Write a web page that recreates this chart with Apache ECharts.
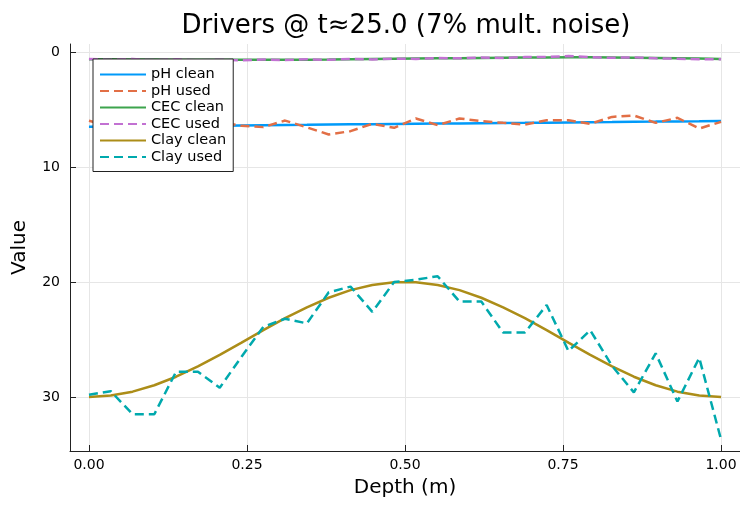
<!DOCTYPE html>
<html>
<head>
<meta charset="utf-8">
<script src="https://cdn.jsdelivr.net/npm/echarts@6/dist/echarts.min.js"></script>
<style>
  html, body { margin: 0; padding: 0; background: #fff; }
  #chart { width: 740px; height: 505px; }
</style>
</head>
<body>
<div id="chart"></div>
<script>
// depth samples (m)
const depth = [0, 0.0345, 0.0690, 0.1034, 0.1379, 0.1724, 0.2069, 0.2414, 0.2759, 0.3103,
  0.3448, 0.3793, 0.4138, 0.4483, 0.4828, 0.5172, 0.5517, 0.5862, 0.6207, 0.6552,
  0.6897, 0.7241, 0.7586, 0.7931, 0.8276, 0.8621, 0.8966, 0.9310, 0.9655, 1.0];

const phClean = [6.50, 6.48, 6.47, 6.45, 6.43, 6.41, 6.40, 6.38, 6.36, 6.34,
  6.33, 6.31, 6.29, 6.28, 6.26, 6.24, 6.22, 6.21, 6.19, 6.17,
  6.16, 6.14, 6.12, 6.10, 6.09, 6.07, 6.05, 6.03, 6.02, 6.00];
const phUsed = [5.98, 6.45, 6.20, 6.60, 6.30, 6.50, 6.10, 6.42, 6.53, 5.96,
  6.55, 7.17, 6.88, 6.24, 6.59, 5.78, 6.36, 5.78, 6.01, 6.16,
  6.30, 5.93, 5.93, 6.24, 5.64, 5.52, 6.16, 5.72, 6.65, 6.07];
const cecClean = [0.62, 0.63, 0.64, 0.65, 0.66, 0.67, 0.68, 0.68, 0.68, 0.67,
  0.66, 0.65, 0.63, 0.61, 0.59, 0.57, 0.55, 0.53, 0.51, 0.49,
  0.48, 0.47, 0.46, 0.46, 0.47, 0.49, 0.51, 0.54, 0.57, 0.60];
const cecUsed = [0.60, 0.66, 0.61, 0.70, 0.63, 0.71, 0.66, 0.72, 0.64, 0.70,
  0.63, 0.68, 0.60, 0.64, 0.57, 0.60, 0.52, 0.55, 0.48, 0.51,
  0.44, 0.42, 0.35, 0.44, 0.50, 0.46, 0.55, 0.58, 0.62, 0.63];
const clayClean = [30.00, 29.88, 29.54, 28.98, 28.24, 27.34, 26.34, 25.27, 24.19, 23.15,
  22.20, 21.37, 20.71, 20.26, 20.03, 20.03, 20.26, 20.71, 21.37, 22.20,
  23.15, 24.19, 25.27, 26.34, 27.34, 28.24, 28.98, 29.54, 29.88, 30.00];
const clayUsed = [29.8, 29.5, 31.5, 31.5, 27.8, 27.8, 29.2, 26.5, 23.9, 23.2,
  23.6, 20.9, 20.4, 22.6, 20.0, 19.8, 19.5, 21.7, 21.7, 24.4,
  24.4, 22.0, 26.0, 24.2, 27.3, 29.6, 26.2, 30.4, 26.6, 33.7];

const xTicks = [0, 0.25, 0.5, 0.75, 1];
const yTicks = [0, 10, 20, 30];

const FONT = "DejaVu Sans";
const pair = (ys) => depth.map((d, i) => [d, ys[i]]);

function line(name, ys, color, dashed) {
  return {
    name,
    type: "line",
    data: pair(ys),
    symbol: "none",
    smooth: false,
    lineStyle: { width: 2.5, color, type: dashed ? [9, 5] : "solid" },
    itemStyle: { color },
  };
}

const chart = echarts.init(document.getElementById("chart"), null, { renderer: "canvas" });

chart.setOption({
  animation: false,
  backgroundColor: "#fff",
  textStyle: { fontFamily: FONT },
  title: {
    text: "Drivers @ t≈25.0 (7% mult. noise)",
    left: 401,
    textAlign: "center",
    top: 8,
    textStyle: { fontFamily: FONT, fontSize: 26, fontWeight: "normal", color: "#000" },
  },
  legend: {
    orient: "vertical",
    left: 93,
    top: 59,
    padding: [8, 7, 7, 6],
    itemWidth: 46,
    itemHeight: 14,
    itemGap: 1.5,
    backgroundColor: "#fff",
    borderColor: "#222",
    borderWidth: 1,
    borderRadius: 0,
    itemStyle: { opacity: 0 },
    textStyle: { fontFamily: FONT, fontSize: 14.5, color: "#000" },
    data: ["pH clean", "pH used", "CEC clean", "CEC used", "Clay clean", "Clay used"],
  },
  grid: { left: 70, right: 0, top: 44, bottom: 54, containLabel: false },
  xAxis: {
    type: "value",
    min: -0.03,
    max: 1.03,
    name: "Depth (m)",
    nameLocation: "middle",
    nameGap: 27,
    nameTextStyle: { fontFamily: FONT, fontSize: 20, color: "#000" },
    axisLine: { onZero: false, lineStyle: { color: "#222", width: 1 } },
    axisTick: { inside: true, length: 6, lineStyle: { color: "#222" }, customValues: xTicks },
    axisLabel: {
      customValues: xTicks,
      margin: 7,
      fontFamily: FONT,
      fontSize: 14,
      color: "#000",
      formatter: (v) => v.toFixed(2),
    },
    splitLine: { show: true, lineStyle: { color: "#e6e6e6", width: 1 } },
  },
  yAxis: {
    type: "value",
    inverse: true,
    min: -0.7,
    max: 34.7,
    name: "Value",
    nameLocation: "middle",
    nameGap: 40,
    nameTextStyle: { fontFamily: FONT, fontSize: 20, color: "#000" },
    axisLine: { show: true, onZero: false, lineStyle: { color: "#222", width: 1 } },
    axisTick: { show: true, inside: true, length: 6, lineStyle: { color: "#222" }, customValues: yTicks },
    axisLabel: { customValues: yTicks, margin: 10, fontFamily: FONT, fontSize: 14, color: "#000" },
    splitLine: { show: true, lineStyle: { color: "#e6e6e6", width: 1 } },
  },
  series: [
    line("pH clean", phClean, "#009af9", false),
    line("pH used", phUsed, "#e26f46", true),
    line("CEC clean", cecClean, "#3da44d", false),
    line("CEC used", cecUsed, "#c271d2", true),
    line("Clay clean", clayClean, "#ac8d18", false),
    line("Clay used", clayUsed, "#00a9ad", true),
  ],
});
</script>
</body>
</html>
